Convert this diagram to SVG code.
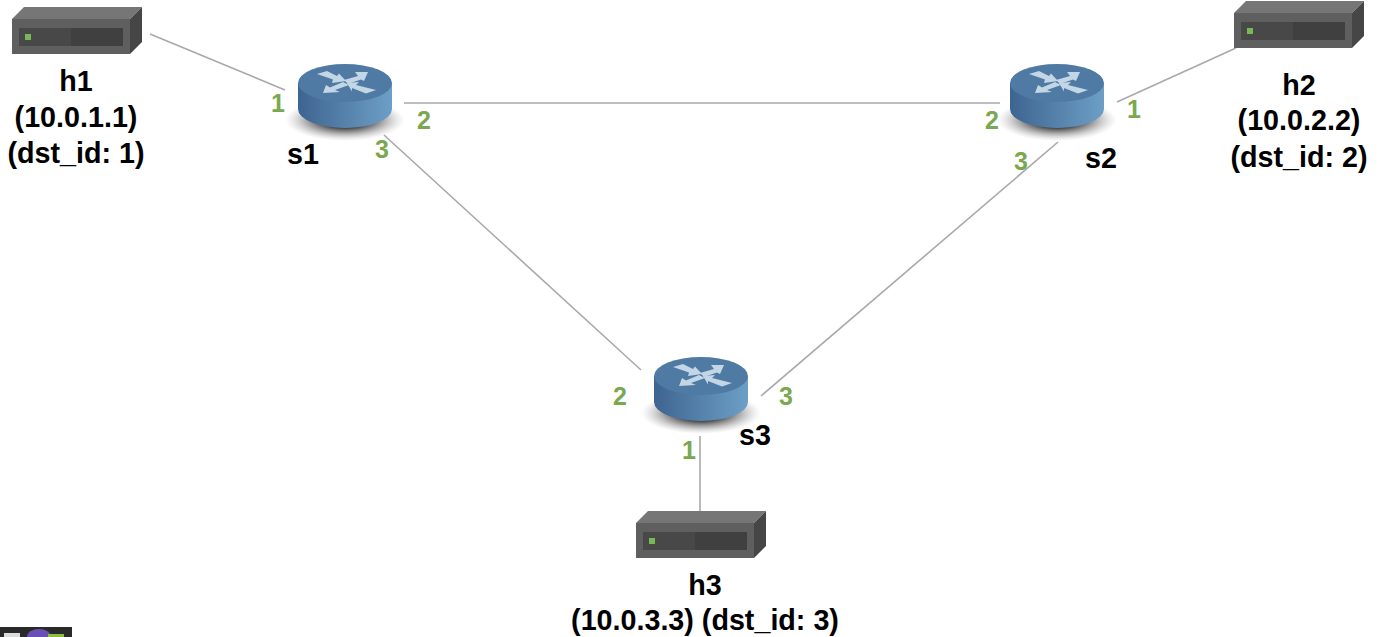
<svg xmlns="http://www.w3.org/2000/svg" xmlns:xlink="http://www.w3.org/1999/xlink" width="1380" height="637" viewBox="0 0 1380 637">
<style>
text{font-family:"Liberation Sans",Arial,sans-serif;font-weight:bold}
.n{font-size:28.7px;fill:#000;text-anchor:middle}
.p{font-size:25px;fill:#7aa850;text-anchor:middle}
.l{stroke:#a9a9a9;stroke-width:1.6;fill:none}
</style>
<defs>
<linearGradient id="body" x1="0" x2="1" y1="0" y2="0"><stop offset="0" stop-color="#3e6490"/><stop offset="1" stop-color="#6d9fc6"/></linearGradient>
<radialGradient id="shadow" cx="0.5" cy="0.5" r="0.5"><stop offset="0" stop-color="#000" stop-opacity=".8"/><stop offset=".4" stop-color="#000" stop-opacity=".7"/><stop offset=".7" stop-color="#333" stop-opacity=".32"/><stop offset="1" stop-color="#888" stop-opacity="0"/></radialGradient>
<g id="host">
<polygon points="0,12 12,0 130,0 118,12" fill="#767676"/>
<polygon points="118,12 130,0 130,35 118,47" fill="#464646"/>
<rect x="0" y="12" width="118" height="35" fill="#5f5f5f"/>
<rect x="7" y="21" width="52" height="18" fill="#484848"/>
<rect x="59" y="21" width="52" height="18" fill="#404040"/>
<rect x="13" y="27" width="6" height="6" fill="#78b856"/>
</g>
<g id="router">
<ellipse cx="47" cy="56" rx="60" ry="21" fill="url(#shadow)"/>
<path d="M0,19 V45 A47,19 0 0 0 94,45 V19 Z" fill="url(#body)"/>
<ellipse cx="47" cy="19" rx="47" ry="19" fill="#4f7aa4"/>
<g fill="#c3d6e6">
<polygon points="70,8 57,8 60,12 46,16 50,20 63,15.5 66,17"/>
<polygon points="25,29 28,21 32,23.5 45,18 51,21 37,26 42,28"/>
<polygon points="19,10 29,7 39,12 41,9.5 48,17 34,19 35,15.5"/>
<polygon points="49,19 61,18 58,21 78,26 68,29.5 54,24 54,27.5"/>
</g>
</g>
</defs>
<rect width="1380" height="637" fill="#fff"/>
<g id="connectors">
<line class="l" x1="150" y1="34" x2="285" y2="90"/>
<line class="l" x1="404" y1="103" x2="1000" y2="103"/>
<line class="l" x1="384" y1="135" x2="641" y2="370"/>
<line class="l" x1="1058" y1="142" x2="761" y2="396"/>
<line class="l" x1="1117" y1="102" x2="1236" y2="48"/>
<line class="l" x1="700" y1="436" x2="700" y2="511"/>
</g>
<g id="h1"><use href="#host" x="12" y="7"/><text class="n" x="76" y="91">h1</text><text class="n" x="76" y="127">(10.0.1.1)</text><text class="n" x="76" y="163">(dst_id: 1)</text></g>
<g id="h2"><use href="#host" x="1234" y="1"/><text class="n" x="1299" y="95">h2</text><text class="n" x="1299" y="130">(10.0.2.2)</text><text class="n" x="1299" y="167">(dst_id: 2)</text></g>
<g id="h3"><use href="#host" x="636" y="511"/><text class="n" x="705" y="595">h3</text><text class="n" x="705" y="630">(10.0.3.3) (dst_id: 3)</text></g>
<g id="s1"><use href="#router" x="298" y="64"/><text class="n" x="303" y="164">s1</text><text class="p" x="278" y="112">1</text><text class="p" x="424" y="129">2</text><text class="p" x="382" y="158">3</text></g>
<g id="s2"><use href="#router" x="1010" y="64"/><text class="n" x="1101" y="168">s2</text><text class="p" x="1134" y="118">1</text><text class="p" x="992" y="129">2</text><text class="p" x="1021" y="170">3</text></g>
<g id="s3"><use href="#router" x="654" y="357"/><text class="n" x="755" y="445">s3</text><text class="p" x="689" y="459">1</text><text class="p" x="620" y="405">2</text><text class="p" x="786" y="405">3</text></g>
<g id="corner"><rect x="0" y="627" width="72" height="10" fill="#2a2a2a"/><rect x="4" y="633" width="16" height="4" fill="#ddd"/><ellipse cx="39" cy="637" rx="12" ry="8" fill="#6a4fb5"/><rect x="48" y="634" width="16" height="3" fill="#8abf3f"/></g>
</svg>
